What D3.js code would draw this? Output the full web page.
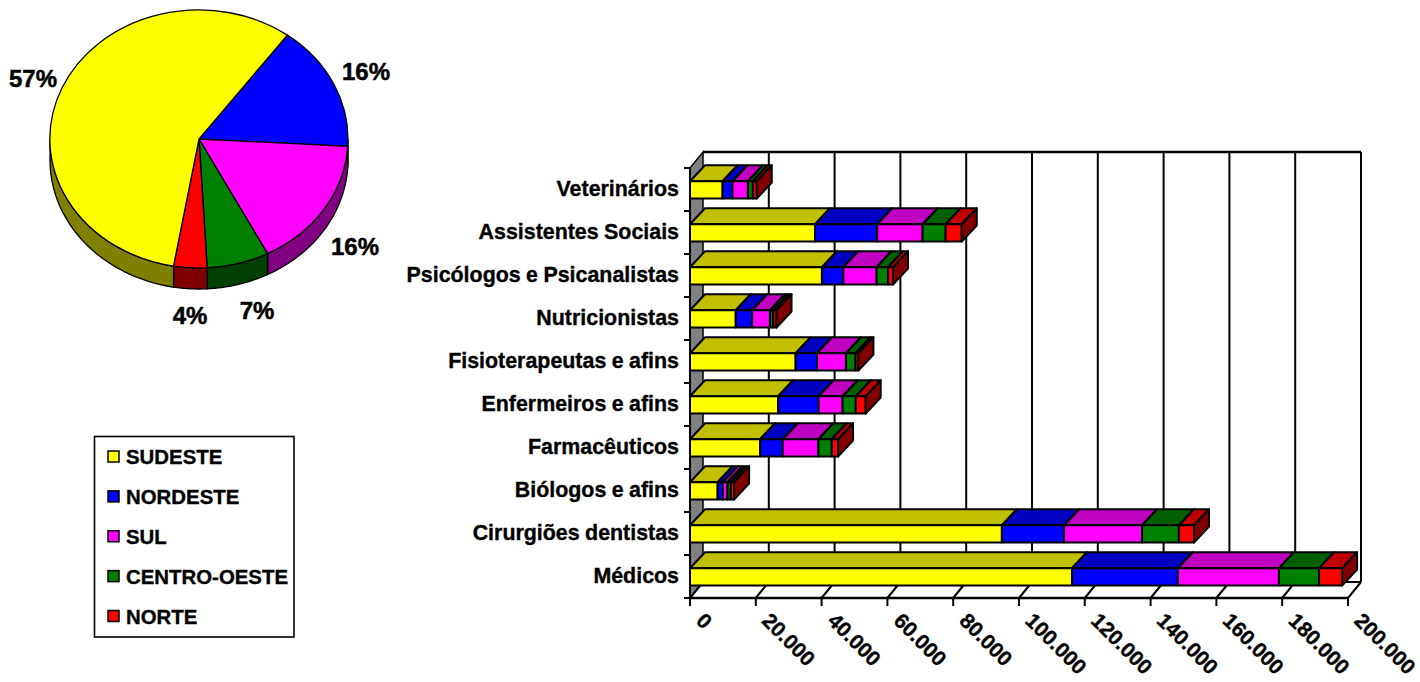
<!DOCTYPE html>
<html><head><meta charset="utf-8">
<script src="https://cdnjs.cloudflare.com/ajax/libs/d3/7.8.5/d3.min.js"></script>
<style>html,body{margin:0;padding:0;background:#fff}svg{display:block}
text{font-family:"Liberation Sans",Arial,sans-serif;font-weight:bold;fill:#000;stroke:#000;stroke-width:.35px}</style></head><body>
<svg id="c" width="1420" height="682"></svg>
<script>
const regions = ["SUDESTE","NORDESTE","SUL","CENTRO-OESTE","NORTE"];
const regionColors = ["#ffff00","#0000ff","#ff00ff","#008000","#ff0000"];
const regionTop = ["#c0c000","#0000c0","#c000c0","#006000","#c00000"];
const regionSide = ["#808000","#000080","#800080","#004000","#800000"];
const pieValues = [57.4,15.8,16.49,6.74,3.6];
const pieOrder = [1,2,3,4,0];
const pieLabels = ["57%","16%","16%","7%","4%"];
const categories = ["Veterinários","Assistentes Sociais","Psicólogos e Psicanalistas","Nutricionistas","Fisioterapeutas e afins","Enfermeiros e afins","Farmacêuticos","Biólogos e afins","Cirurgiões dentistas","Médicos"];
const sudeste = [9900,38000,40100,13900,32100,26800,21300,8400,94800,116100];
const nordeste = [3000,18900,6500,5000,6500,12300,6900,1600,18900,32200];
const sul = [4700,13800,10100,5400,8800,7300,10800,1400,23700,30700];
const centroOeste = [1500,7000,3500,1000,2900,4000,4100,1000,11200,12200];
const norte = [1200,4900,1500,1000,900,3000,1900,1000,4600,7000];
const xTicks = [0,20000,40000,60000,80000,100000,120000,140000,160000,180000,200000];

const svg = d3.select("#c");
const fmt = d => d3.format(",")(d).replace(/,/g,".");

// ---- bar chart ----
const x = d3.scaleLinear().domain([0,200000]).range([690,1348]);
const y = d3.scaleBand().domain(categories).range([168,598]);
const DX = 13, DY = -16, BDX = 15;
const barH = 17.4, barBottomGap = 12.4;
const g = svg.append("g");
const line = (a,b,c,d,w=2)=>g.append("line").attr("x1",a).attr("y1",b).attr("x2",c).attr("y2",d).attr("stroke","#000").attr("stroke-width",w);
const yTop = y.range()[0], yBot = y.range()[1];
// left wall
g.append("polygon").attr("points",[[x(0),yTop],[x(0)+DX,yTop+DY],[x(0)+DX,yBot+DY],[x(0),yBot]].join(" "))
 .attr("fill","#808080").attr("stroke","#000").attr("stroke-width",1.5);
// back wall frame and gridlines
xTicks.forEach(t=>{ if(t>0) line(x(t)+DX,yTop+DY,x(t)+DX,yBot+DY,2); });
line(x(0)+DX,yTop+DY,x(200000)+DX,yTop+DY,2.5);
line(x(0)+DX,yBot+DY,x(200000)+DX,yBot+DY,2);
// floor
xTicks.forEach(t=>line(x(t),yBot,x(t)+DX,yBot+DY,2));
line(x(0),yBot,x(200000),yBot,2.5);
xTicks.forEach(t=>line(x(t),yBot,x(t),yBot+8,2));
// y ticks
categories.concat(["end"]).forEach((c,i)=>{const yy=yTop+i*y.step(); line(x(0)-6,yy,x(0),yy,2); });
line(x(0),yTop,x(0),yBot+8,2);

const stacked = d3.stack().keys([0,1,2,3,4]).value((d,k)=>d[k])(
  categories.map((c,i)=>[sudeste[i],nordeste[i],sul[i],centroOeste[i],norte[i]]));
categories.forEach((c,i)=>{
  const by = y(c)+y.bandwidth()-barBottomGap-barH;
  const bg = g.append("g");
  const st = {stroke:"#000","stroke-width":2,"stroke-linejoin":"round"};
  stacked.forEach((s,k)=>{
    const x0=x(s[i][0]), x1=x(s[i][1]);
    const top=bg.append("polygon").attr("points",[[x0,by],[x0+BDX,by+DY],[x1+BDX,by+DY],[x1,by]].join(" ")).attr("fill",regionTop[k]);
    const fr=bg.append("rect").attr("x",x0).attr("y",by).attr("width",x1-x0).attr("height",barH).attr("fill",regionColors[k]);
    [top,fr].forEach(e=>Object.entries(st).forEach(([a,v])=>e.attr(a,v)));
    if(k===4){
      const sd=bg.append("polygon").attr("points",[[x1,by],[x1+BDX,by+DY],[x1+BDX,by+DY+barH],[x1,by+barH]].join(" ")).attr("fill",regionSide[k]);
      Object.entries(st).forEach(([a,v])=>sd.attr(a,v));
    }
  });
  svg.append("text").attr("x",679).attr("y",by+barH/2+6.5).attr("text-anchor","end")
    .attr("font-size",21.4).attr("word-spacing",-0.5).text(c);
});
xTicks.forEach(t=>{
  svg.append("text").attr("transform",`translate(${x(t)+5},${622}) rotate(45)`).attr("font-size",21)
    .attr("text-anchor","start").text(fmt(t));
});

// ---- pie ----
const cx=199, cy=139, rx=149, ry=129, depth=21;
const start=36.4*Math.PI/180;
const pie=d3.pie().sort(null).value(i=>pieValues[i]).startAngle(start).endAngle(start+2*Math.PI)(pieOrder);
const pg=svg.append("g");
const pt=(a,d=0)=>[cx+rx*Math.sin(a),cy-ry*Math.cos(a)+d];
const arcPath=d3.arc().innerRadius(0).outerRadius(1);
pie.forEach(p=>{
  // side wall visible on the lower half
  [[p.startAngle,p.endAngle],[p.startAngle-2*Math.PI,p.endAngle-2*Math.PI]].forEach(([a0,a1])=>{
    const s=Math.max(a0,Math.PI/2), e=Math.min(a1,Math.PI*1.5);
    if(e<=s) return;
    const n=40, top=d3.range(n+1).map(j=>pt(s+(e-s)*j/n)), bot=d3.range(n,-1,-1).map(j=>pt(s+(e-s)*j/n,depth));
    pg.append("polygon").attr("points",top.concat(bot).join(" ")).attr("fill",regionSide[p.data]).attr("stroke","#000").attr("stroke-width",1.3);
  });
});
pie.forEach(p=>{
  pg.append("path").attr("d",arcPath({startAngle:p.startAngle,endAngle:p.endAngle}))
    .attr("transform",`translate(${cx},${cy}) scale(${rx},${ry})`).attr("fill",regionColors[p.data])
    .attr("stroke","#000").attr("stroke-width",1.3).attr("vector-effect","non-scaling-stroke");
});
const labelPos=[[33,87],[366,80],[355,255],[257,319],[190,324]];
pieLabels.forEach((l,i)=>{
  svg.append("text").attr("x",labelPos[i][0]).attr("y",labelPos[i][1]).attr("text-anchor","middle").attr("font-size",24).style("stroke-width","0.5px").text(l);
});

// ---- legend ----
const lg=svg.append("g");
lg.append("rect").attr("x",94.5).attr("y",436.5).attr("width",199.5).attr("height",200.5).attr("fill","#fff").attr("stroke","#000").attr("stroke-width",1.6);
const ly=d3.scalePoint().domain(regions).range([456.5,616]);
regions.forEach((r,i)=>{
  lg.append("rect").attr("x",108).attr("y",ly(r)-5.5).attr("width",11).attr("height",11).attr("fill",regionColors[i]).attr("stroke","#000").attr("stroke-width",1.5);
  lg.append("text").attr("x",126).attr("y",ly(r)+7.5).attr("font-size",20.4).text(r);
});
</script></body></html>
